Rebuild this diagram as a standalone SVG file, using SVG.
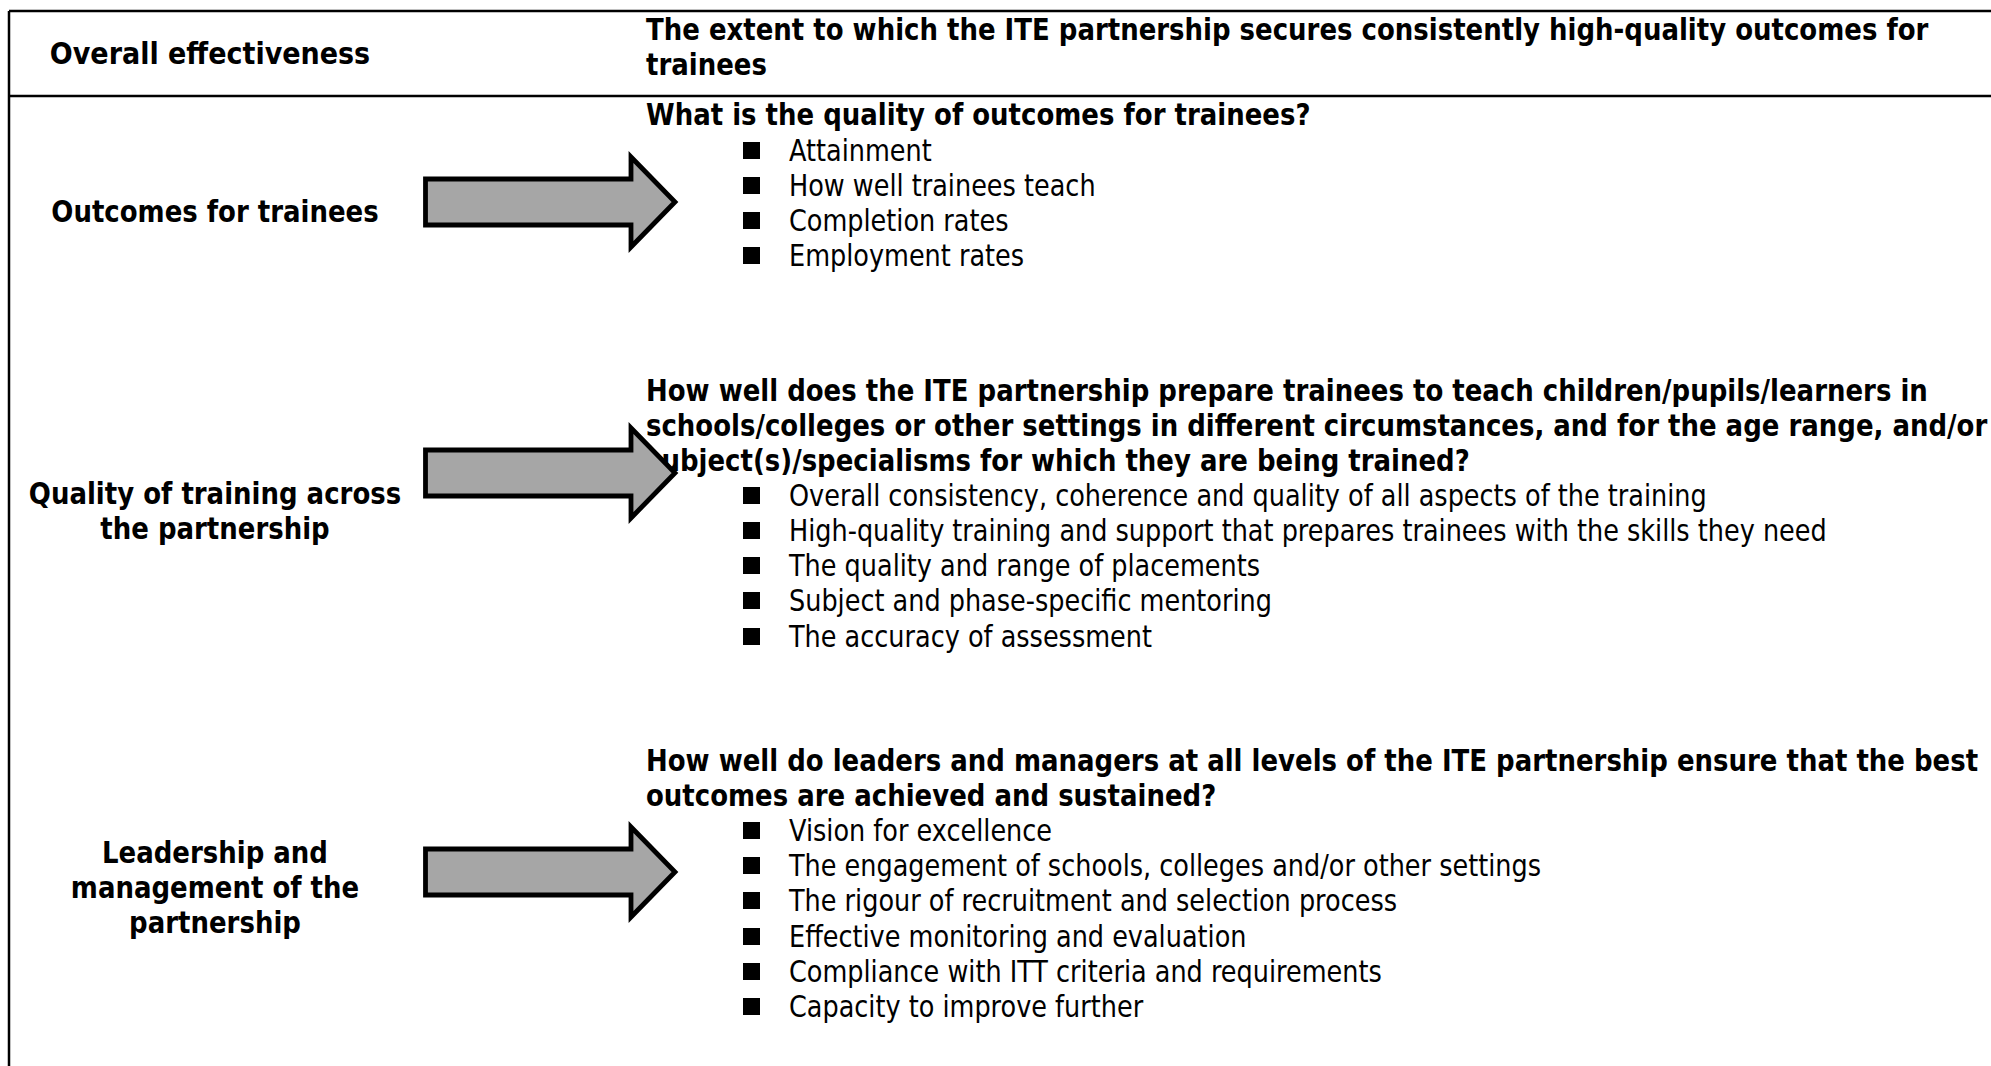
<svg xmlns="http://www.w3.org/2000/svg" xmlns:xlink="http://www.w3.org/1999/xlink" width="1991" height="1066" viewBox="0 0 1991 1066">
<style>
.b{font-family:"DejaVu Sans",Verdana,sans-serif;font-weight:bold;font-size:29.5px;fill:#000}
.r{font-family:"DejaVu Sans",Verdana,sans-serif;font-size:29.5px;fill:#000}
.c{text-anchor:middle}
.sq{fill:#000}
.arrow{fill:#a6a6a6;stroke:#000;stroke-width:4.8;stroke-linejoin:miter;stroke-miterlimit:10}
.rule{stroke:#000;stroke-width:2.5;fill:none}
</style>
<defs>
<path id="arr" class="arrow" d="M425.5,-23 H631 V-45 L675,0 L631,45 V23 H425.5 Z"/>
<rect id="sq" class="sq" x="0" y="-19" width="17" height="17"/>
</defs>
<rect width="1991" height="1066" fill="#fff"/>
<g id="table-rules">
<path class="rule" d="M9,11 H1991 M9,96 H1991 M9,11 V1066"/>
</g>
<g id="node-overall">
<text class="b c" transform="translate(210,64) scale(0.915,1)">Overall effectiveness</text>
<text class="b" transform="translate(646,40) scale(0.881,1)">The extent to which the ITE partnership secures consistently high-quality outcomes for</text>
<text class="b" transform="translate(646,75) scale(0.881,1)">trainees</text>
</g>
<g id="node-outcomes">
<text class="b c" transform="translate(215,222) scale(0.881,1)">Outcomes for trainees</text>
<text class="b" transform="translate(646,125) scale(0.881,1)">What is the quality of outcomes for trainees?</text>
<use xlink:href="#sq" x="743" y="161"/>
<use xlink:href="#sq" x="743" y="196"/>
<use xlink:href="#sq" x="743" y="231"/>
<use xlink:href="#sq" x="743" y="266"/>
<text class="r" transform="translate(789,161) scale(0.866,1)">Attainment</text>
<text class="r" transform="translate(789,196) scale(0.866,1)">How well trainees teach</text>
<text class="r" transform="translate(789,231) scale(0.866,1)">Completion rates</text>
<text class="r" transform="translate(789,266) scale(0.866,1)">Employment rates</text>
</g>
<g id="node-quality">
<text class="b c" transform="translate(215,504) scale(0.881,1)">Quality of training across</text>
<text class="b c" transform="translate(215,539) scale(0.881,1)">the partnership</text>
<text class="b" transform="translate(646,401) scale(0.881,1)">How well does the ITE partnership prepare trainees to teach children/pupils/learners in</text>
<text class="b" transform="translate(646,436) scale(0.881,1)">schools/colleges or other settings in different circumstances, and for the age range, and/or</text>
<text class="b" transform="translate(646,471) scale(0.881,1)">subject(s)/specialisms for which they are being trained?</text>
<use xlink:href="#sq" x="743" y="506"/>
<use xlink:href="#sq" x="743" y="541"/>
<use xlink:href="#sq" x="743" y="576"/>
<use xlink:href="#sq" x="743" y="611"/>
<use xlink:href="#sq" x="743" y="647"/>
<text class="r" transform="translate(789,506) scale(0.866,1)">Overall consistency, coherence and quality of all aspects of the training</text>
<text class="r" transform="translate(789,541) scale(0.866,1)">High-quality training and support that prepares trainees with the skills they need</text>
<text class="r" transform="translate(789,576) scale(0.866,1)">The quality and range of placements</text>
<text class="r" transform="translate(789,611) scale(0.866,1)">Subject and phase-specific mentoring</text>
<text class="r" transform="translate(789,647) scale(0.866,1)">The accuracy of assessment</text>
</g>
<g id="node-leadership">
<text class="b c" transform="translate(215,863) scale(0.881,1)">Leadership and</text>
<text class="b c" transform="translate(215,898) scale(0.881,1)">management of the</text>
<text class="b c" transform="translate(215,933) scale(0.881,1)">partnership</text>
<text class="b" transform="translate(646,771) scale(0.881,1)">How well do leaders and managers at all levels of the ITE partnership ensure that the best</text>
<text class="b" transform="translate(646,806) scale(0.881,1)">outcomes are achieved and sustained?</text>
<use xlink:href="#sq" x="743" y="841"/>
<use xlink:href="#sq" x="743" y="876"/>
<use xlink:href="#sq" x="743" y="911"/>
<use xlink:href="#sq" x="743" y="947"/>
<use xlink:href="#sq" x="743" y="982"/>
<use xlink:href="#sq" x="743" y="1017"/>
<text class="r" transform="translate(789,841) scale(0.866,1)">Vision for excellence</text>
<text class="r" transform="translate(789,876) scale(0.866,1)">The engagement of schools, colleges and/or other settings</text>
<text class="r" transform="translate(789,911) scale(0.866,1)">The rigour of recruitment and selection process</text>
<text class="r" transform="translate(789,947) scale(0.866,1)">Effective monitoring and evaluation</text>
<text class="r" transform="translate(789,982) scale(0.866,1)">Compliance with ITT criteria and requirements</text>
<text class="r" transform="translate(789,1017) scale(0.866,1)">Capacity to improve further</text>
</g>
<g id="connectors">
<use xlink:href="#arr" y="202"/>
<use xlink:href="#arr" y="473"/>
<use xlink:href="#arr" y="872"/>
</g>
</svg>
